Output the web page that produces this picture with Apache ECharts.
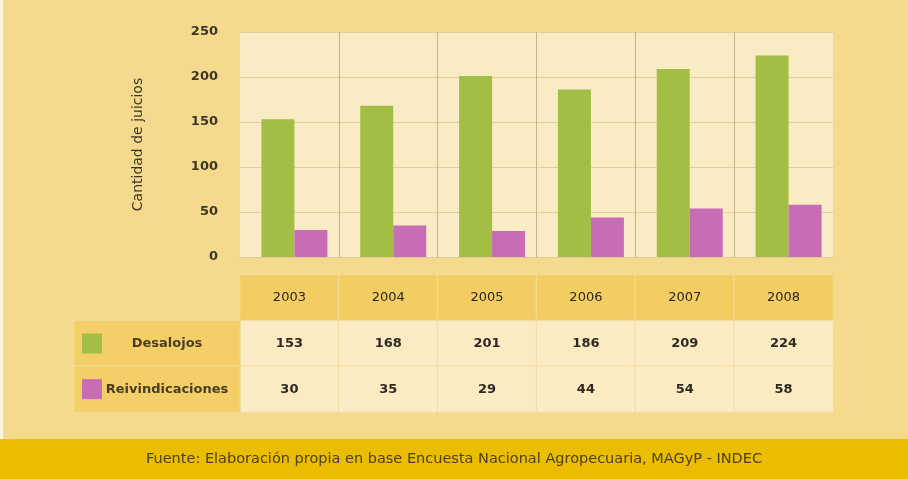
<!DOCTYPE html>
<html>
<head>
<meta charset="utf-8">
<script src="https://cdn.jsdelivr.net/npm/echarts@6/dist/echarts.min.js"></script>
<style>
  html, body { margin: 0; padding: 0; background: #f5da8d; }
  #chart { width: 908px; height: 479px; }
</style>
</head>
<body>
<div id="chart"></div>
<script>
// datos del gráfico
const years = ['2003', '2004', '2005', '2006', '2007', '2008'];
const desalojos = [153, 168, 201, 186, 209, 224];
const reivindicaciones = [30, 35, 29, 44, 54, 58];
const rowNames = ['Desalojos', 'Reivindicaciones'];
const tableRows = ['Año', 'Desalojos', 'Reivindicaciones'];
const fuente = 'Fuente: Elaboración propia en base Encuesta Nacional Agropecuaria, MAGyP - INDEC';

const green = '#a3be44';
const pink = '#c86db5';
const font = 'DejaVu Sans';

// celdas de la tabla (encabezado + valores)
const tableCells = [];
years.forEach((y, i) => {
    tableCells.push({ value: [i, 0, +y], itemStyle: { color: '#f4cd62' }, label: { fontWeight: 'normal', fontSize: 13, color: '#2a261e' } });
    tableCells.push({ value: [i, 1, desalojos[i]], itemStyle: { color: '#fbebc3' } });
    tableCells.push({ value: [i, 2, reivindicaciones[i]], itemStyle: { color: '#fbebc3' } });
});
const labelCells = rowNames.map((n, i) => ({ value: [0, i + 1, 0], name: n }));

const myChart = echarts.init(document.getElementById('chart'));

const option = {
    backgroundColor: '#f5da8d',
    animation: false,
    textStyle: { fontFamily: font },
    title: {
        text: fuente,
        left: 'center',
        bottom: 7,
        textStyle: { fontSize: 14.5, fontWeight: 'normal', color: '#4e4020', fontFamily: font }
    },
    graphic: [
        { type: 'rect', left: 0, bottom: 0, shape: { width: 908, height: 40 }, style: { fill: '#ebbd00' }, z: -1 },
        { type: 'rect', left: 0, top: 0, shape: { width: 3, height: 439 }, style: { fill: '#fbf3dc' }, z: -1 }
    ],
    grid: [
        { left: 240, right: 75, top: 32, bottom: 222, show: true, backgroundColor: '#f9ebc4', borderWidth: 0 },
        { left: 240, right: 75, top: 275, height: 137 },
        { left: 74, width: 166, top: 275, height: 137 }
    ],
    xAxis: [
        {
            type: 'category', data: years, gridIndex: 0,
            axisLine: { lineStyle: { color: '#dccb98' } },
            axisTick: { show: false },
            axisLabel: { show: false },
            splitLine: { show: true, showMinLine: false, showMaxLine: false, lineStyle: { color: '#c4b48a' } }
        },
        {
            type: 'category', data: years, gridIndex: 1,
            axisLine: { show: false }, axisTick: { show: false }, axisLabel: { show: false }
        },
        {
            type: 'category', data: ['rotulo'], gridIndex: 2,
            axisLine: { show: false }, axisTick: { show: false }, axisLabel: { show: false }
        }
    ],
    yAxis: [
        {
            type: 'value', gridIndex: 0, min: 0, max: 250, interval: 50,
            name: 'Cantidad de juicios', nameLocation: 'middle', nameGap: 95,
            nameTextStyle: { fontSize: 14, color: '#3d3526', fontFamily: font },
            axisLine: { show: false }, axisTick: { show: false },
            axisLabel: { margin: 22, fontSize: 13, fontWeight: 'bold', color: '#3d3526' },
            splitLine: { lineStyle: { color: '#dfcd9c' } }
        },
        {
            type: 'category', data: tableRows, gridIndex: 1, inverse: true,
            axisLine: { show: false }, axisTick: { show: false }, axisLabel: { show: false }
        },
        {
            type: 'category', data: tableRows, gridIndex: 2, inverse: true,
            axisLine: { show: false }, axisTick: { show: false }, axisLabel: { show: false }
        }
    ],
    series: [
        // serie vacía para desplazar las barras como en el original
        { type: 'bar', data: [], barWidth: 10, barGap: 0, xAxisIndex: 0, yAxisIndex: 0 },
        {
            name: 'Desalojos', type: 'bar', data: desalojos, barWidth: 33, barGap: 0,
            itemStyle: { color: green }, xAxisIndex: 0, yAxisIndex: 0
        },
        {
            name: 'Reivindicaciones', type: 'bar', data: reivindicaciones, barWidth: 33, barGap: 0,
            itemStyle: { color: pink }, xAxisIndex: 0, yAxisIndex: 0
        },
        {
            type: 'heatmap', xAxisIndex: 1, yAxisIndex: 1, data: tableCells,
            itemStyle: { borderColor: '#f1dca0', borderWidth: 1 },
            label: {
                show: true, formatter: p => p.value[2],
                fontSize: 13, fontWeight: 'bold', color: '#2e2a22', fontFamily: font
            },
            emphasis: { disabled: true }
        },
        {
            type: 'heatmap', xAxisIndex: 2, yAxisIndex: 2, data: labelCells,
            itemStyle: { color: '#f4cf68', borderColor: '#f1dca0', borderWidth: 1 },
            label: {
                show: true,
                // cuadrito de color + nombre de la serie
                formatter: p => (p.dataIndex === 0 ? '{g|}' : '{m|}') + '{b|' + p.name + '}',
                rich: {
                    g: { backgroundColor: green, width: 20, height: 20 },
                    m: { backgroundColor: pink, width: 20, height: 20 },
                    b: { width: 130, align: 'center', fontSize: 13, fontWeight: 'bold', color: '#4a3c22', fontFamily: font }
                }
            },
            emphasis: { disabled: true }
        }
    ]
};

myChart.setOption(option);
</script>
</body>
</html>
